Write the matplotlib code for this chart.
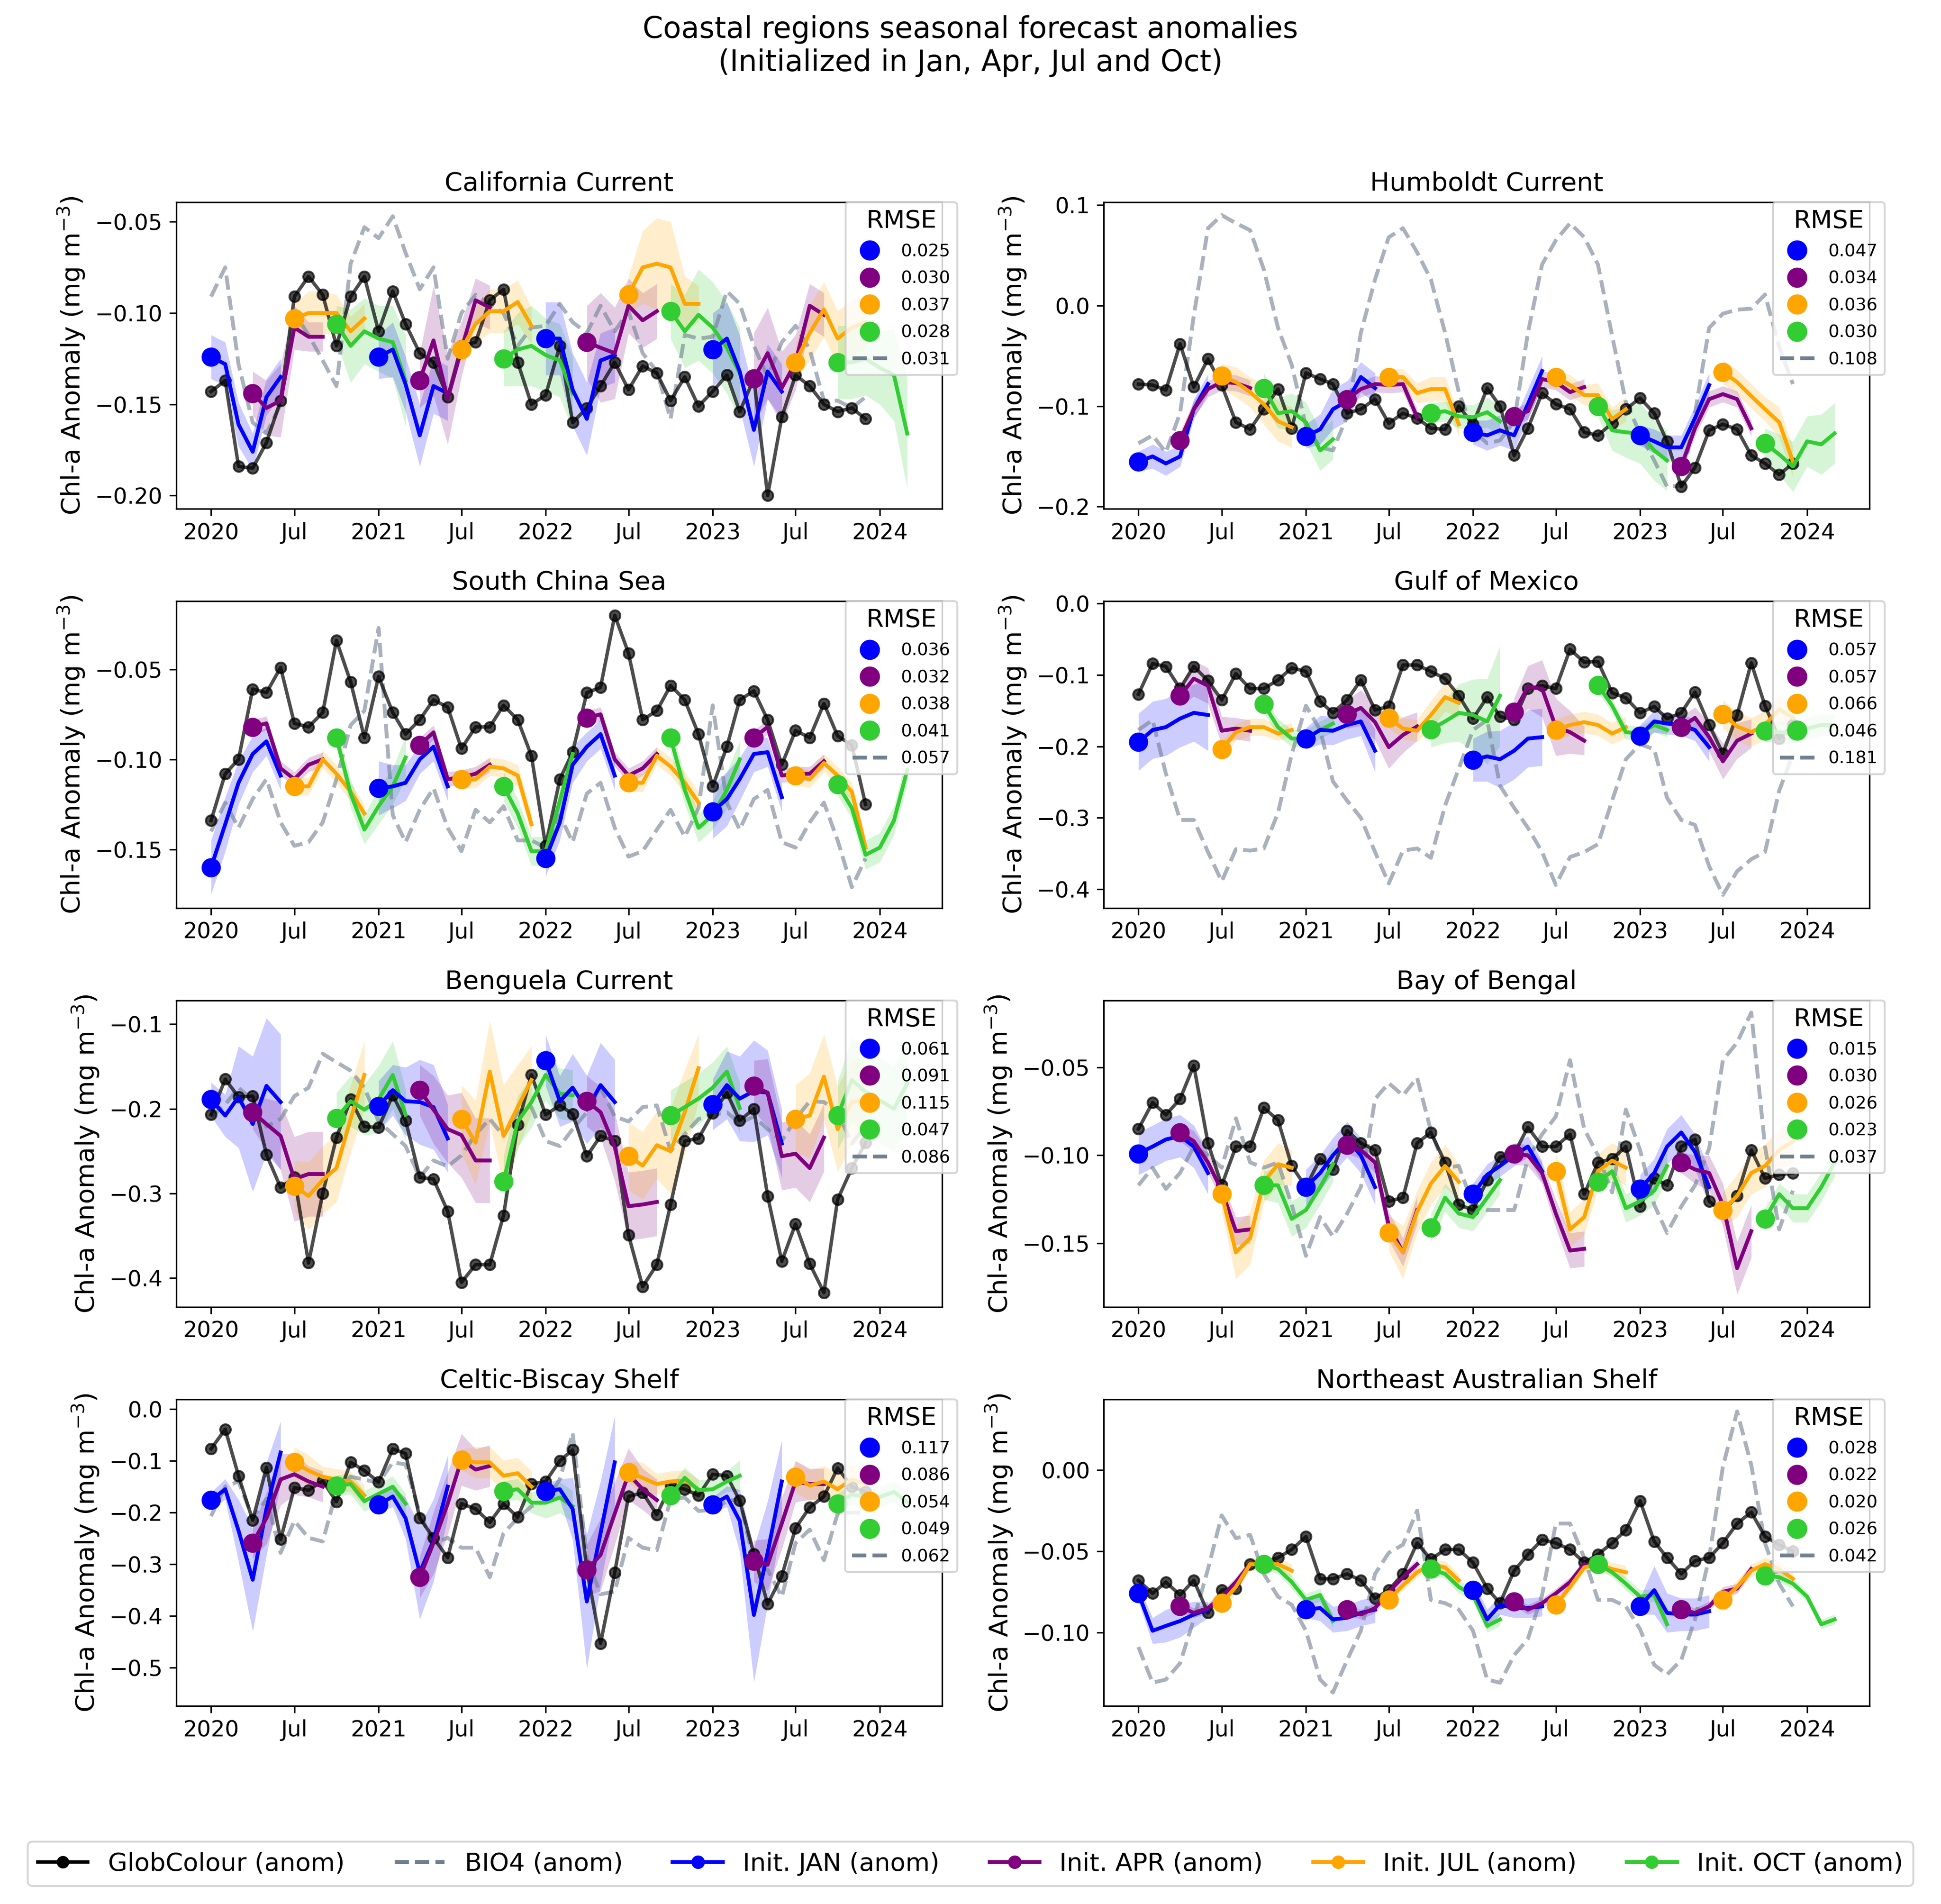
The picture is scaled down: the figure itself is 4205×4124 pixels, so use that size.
import numpy as np
import pandas as pd
import matplotlib
matplotlib.use("Agg")
import matplotlib.pyplot as plt
import matplotlib.dates as mdates
from matplotlib.lines import Line2D
from matplotlib.ticker import MultipleLocator

# monthly obs / BIO4 Jan 2020 .. Dec 2023, forecasts: 16 inits x 6 lead months
months = pd.date_range("2020-01-01", periods=48, freq="MS")
inits = pd.date_range("2020-01-01", periods=16, freq="3MS")
init_colors = ["blue", "purple", "orange", "limegreen"]
init_names = ["JAN", "APR", "JUL", "OCT"]

# ---------------- California Current
cal_obs = [-0.143, -0.137, -0.184, -0.185, -0.171, -0.148, -0.091, -0.080, -0.090, -0.118, -0.091, -0.080,
           -0.110, -0.088, -0.106, -0.122, -0.127, -0.146, -0.118, -0.116, -0.093, -0.087, -0.127, -0.150,
           -0.145, -0.118, -0.160, -0.152, -0.140, -0.127, -0.142, -0.129, -0.133, -0.148, -0.135, -0.151,
           -0.143, -0.134, -0.154, -0.136, -0.200, -0.157, -0.134, -0.140, -0.150, -0.154, -0.152, -0.158]
cal_bio = [-0.091, -0.075, -0.128, -0.160, -0.166, -0.150, -0.100, -0.112, -0.126, -0.140, -0.073, -0.053,
           -0.059, -0.047, -0.067, -0.087, -0.075, -0.125, -0.100, -0.090, -0.095, -0.100, -0.118, -0.108,
           -0.107, -0.095, -0.105, -0.111, -0.096, -0.110, -0.099, -0.122, -0.132, -0.158, -0.112, -0.114,
           -0.113, -0.088, -0.095, -0.118, -0.135, -0.116, -0.107, -0.120, -0.148, -0.148, -0.152, -0.146]
cal_fc = [[-0.124, -0.128, -0.161, -0.176, -0.146, -0.135], [-0.144, -0.152, -0.148, -0.108, -0.113, -0.113],
          [-0.103, -0.100, -0.100, -0.100, -0.110, -0.103], [-0.106, -0.118, -0.110, -0.114, -0.116, -0.137],
          [-0.124, -0.120, -0.139, -0.167, -0.140, -0.144], [-0.137, -0.115, -0.147, -0.120, -0.093, -0.097],
          [-0.120, -0.106, -0.099, -0.099, -0.094, -0.107], [-0.125, -0.120, -0.118, -0.123, -0.126, -0.144],
          [-0.114, -0.114, -0.142, -0.158, -0.126, -0.123], [-0.116, -0.119, -0.122, -0.096, -0.104, -0.099],
          [-0.090, -0.075, -0.073, -0.075, -0.095, -0.095], [-0.099, -0.110, -0.101, -0.108, -0.119, -0.133],
          [-0.120, -0.114, -0.132, -0.164, -0.132, -0.143], [-0.136, -0.122, -0.141, -0.127, -0.096, -0.101],
          [-0.127, -0.111, -0.098, -0.114, -0.108, -0.105], [-0.127, -0.127, -0.125, -0.130, -0.134, -0.166]]
cal_sd = [[12, 12, 12, 10, 10, 10], [12, 15, 20, 12, 8, 8], [8, 12, 12, 10, 8, 8], [10, 20, 18, 18, 20, 25],
          [12, 15, 15, 17, 15, 15], [15, 30, 25, 15, 12, 12], [8, 10, 12, 12, 12, 10], [15, 20, 22, 20, 20, 20],
          [20, 20, 20, 20, 15, 15], [20, 30, 25, 15, 15, 15], [10, 20, 25, 25, 15, 10], [15, 20, 25, 25, 25, 25],
          [20, 20, 20, 20, 15, 15], [25, 25, 20, 15, 12, 12], [10, 15, 15, 15, 15, 15], [20, 20, 20, 20, 25, 30]]
cal_rmse = [0.025, 0.030, 0.037, 0.028, 0.031]

# ---------------- Humboldt Current
hum_obs = [-0.078, -0.079, -0.084, -0.038, -0.081, -0.053, -0.079, -0.116, -0.123, -0.103, -0.083, -0.122,
           -0.067, -0.073, -0.078, -0.107, -0.103, -0.093, -0.117, -0.107, -0.112, -0.122, -0.123, -0.100,
           -0.118, -0.082, -0.100, -0.149, -0.122, -0.087, -0.098, -0.103, -0.126, -0.129, -0.117, -0.103,
           -0.092, -0.107, -0.135, -0.180, -0.161, -0.124, -0.118, -0.123, -0.149, -0.157, -0.168, -0.157]
hum_bio = [-0.137, -0.129, -0.146, -0.107, -0.010, 0.077, 0.090, 0.082, 0.075, 0.036, -0.022, -0.059,
           -0.120, -0.141, -0.144, -0.110, -0.027, 0.026, 0.068, 0.077, 0.053, 0.026, -0.027, -0.086,
           -0.124, -0.137, -0.134, -0.115, -0.027, 0.041, 0.065, 0.082, 0.068, 0.041, -0.030, -0.096,
           -0.127, -0.154, -0.180, -0.179, -0.107, -0.022, -0.008, -0.004, -0.003, 0.011, -0.041, -0.078]
hum_fc = [[-0.155, -0.150, -0.157, -0.150, -0.103, -0.078], [-0.134, -0.103, -0.083, -0.076, -0.077, -0.082],
          [-0.070, -0.076, -0.086, -0.098, -0.115, -0.121], [-0.082, -0.107, -0.105, -0.116, -0.144, -0.133],
          [-0.130, -0.123, -0.103, -0.095, -0.071, -0.082], [-0.093, -0.083, -0.078, -0.079, -0.078, -0.111],
          [-0.071, -0.071, -0.087, -0.083, -0.083, -0.118], [-0.107, -0.105, -0.110, -0.111, -0.106, -0.115],
          [-0.126, -0.129, -0.124, -0.129, -0.098, -0.065], [-0.110, -0.105, -0.073, -0.076, -0.086, -0.081],
          [-0.071, -0.079, -0.089, -0.089, -0.113, -0.103], [-0.100, -0.124, -0.126, -0.127, -0.144, -0.154],
          [-0.129, -0.135, -0.141, -0.141, -0.112, -0.079], [-0.160, -0.122, -0.093, -0.088, -0.093, -0.122],
          [-0.066, -0.076, -0.090, -0.103, -0.116, -0.155], [-0.137, -0.148, -0.160, -0.135, -0.138, -0.127]]
hum_sd = [[10, 12, 12, 10, 10, 10], [8, 8, 8, 8, 8, 8], [12, 15, 15, 20, 20, 20], [15, 15, 18, 20, 20, 20],
          [12, 15, 20, 20, 15, 15], [8, 8, 8, 8, 8, 8], [8, 8, 10, 12, 12, 12], [10, 10, 12, 12, 15, 15],
          [12, 15, 15, 15, 15, 15], [8, 8, 8, 8, 8, 8], [8, 10, 10, 12, 12, 12], [10, 20, 25, 30, 30, 30],
          [10, 12, 12, 12, 12, 12], [8, 8, 8, 8, 8, 8], [12, 12, 12, 12, 15, 15], [15, 20, 25, 25, 30, 30]]
hum_rmse = [0.047, 0.034, 0.036, 0.030, 0.108]

# ---------------- South China Sea
scs_obs = [-0.134, -0.108, -0.100, -0.061, -0.063, -0.049, -0.080, -0.082, -0.074, -0.034, -0.057, -0.088,
           -0.054, -0.074, -0.086, -0.078, -0.067, -0.071, -0.094, -0.082, -0.082, -0.070, -0.078, -0.098,
           -0.148, -0.111, -0.096, -0.063, -0.060, -0.020, -0.041, -0.078, -0.073, -0.059, -0.067, -0.086,
           -0.115, -0.093, -0.067, -0.062, -0.078, -0.103, -0.084, -0.088, -0.069, -0.087, -0.092, -0.125]
scs_bio = [-0.140, -0.124, -0.138, -0.122, -0.111, -0.135, -0.148, -0.146, -0.135, -0.111, -0.081, -0.073,
           -0.027, -0.131, -0.146, -0.128, -0.116, -0.138, -0.151, -0.128, -0.135, -0.126, -0.145, -0.145,
           -0.149, -0.131, -0.146, -0.119, -0.113, -0.138, -0.154, -0.151, -0.139, -0.128, -0.143, -0.127,
           -0.070, -0.124, -0.139, -0.122, -0.117, -0.146, -0.149, -0.135, -0.124, -0.145, -0.171, -0.155]
scs_fc = [[-0.160, -0.136, -0.113, -0.097, -0.090, -0.109], [-0.082, -0.080, -0.105, -0.111, -0.103, -0.100],
          [-0.115, -0.115, -0.100, -0.108, -0.118, -0.130], [-0.088, -0.119, -0.139, -0.126, -0.115, -0.099],
          [-0.116, -0.115, -0.113, -0.100, -0.093, -0.115], [-0.092, -0.085, -0.111, -0.110, -0.108, -0.103],
          [-0.111, -0.111, -0.104, -0.105, -0.109, -0.136], [-0.115, -0.130, -0.151, -0.151, -0.123, -0.097],
          [-0.155, -0.135, -0.103, -0.093, -0.086, -0.109], [-0.077, -0.075, -0.100, -0.109, -0.105, -0.097],
          [-0.113, -0.113, -0.098, -0.104, -0.113, -0.124], [-0.088, -0.117, -0.138, -0.131, -0.117, -0.100],
          [-0.129, -0.122, -0.111, -0.097, -0.096, -0.121], [-0.088, -0.082, -0.109, -0.108, -0.108, -0.101],
          [-0.109, -0.111, -0.102, -0.109, -0.118, -0.149], [-0.114, -0.127, -0.153, -0.149, -0.134, -0.106]]
scs_sd = [[15, 15, 12, 10, 8, 8], [4, 4, 4, 4, 4, 4], [5, 5, 5, 5, 5, 5], [5, 8, 8, 10, 10, 12],
          [15, 12, 10, 8, 8, 8], [4, 4, 4, 4, 4, 4], [5, 5, 5, 5, 6, 6], [8, 8, 8, 8, 8, 8],
          [10, 10, 10, 8, 8, 8], [4, 4, 4, 4, 4, 4], [5, 5, 5, 5, 6, 6], [8, 8, 8, 8, 10, 10],
          [15, 15, 12, 10, 8, 8], [4, 4, 4, 4, 4, 4], [5, 5, 5, 5, 5, 6], [6, 6, 8, 8, 8, 8]]
scs_rmse = [0.036, 0.032, 0.038, 0.041, 0.057]

# ---------------- Gulf of Mexico
gom_obs = [-0.127, -0.084, -0.088, -0.119, -0.088, -0.108, -0.135, -0.098, -0.119, -0.119, -0.107, -0.090,
           -0.095, -0.137, -0.153, -0.135, -0.107, -0.149, -0.144, -0.086, -0.086, -0.095, -0.105, -0.129,
           -0.161, -0.131, -0.158, -0.163, -0.119, -0.115, -0.119, -0.064, -0.082, -0.081, -0.125, -0.132,
           -0.153, -0.144, -0.161, -0.153, -0.124, -0.170, -0.210, -0.156, -0.083, -0.143, -0.189, -0.170]
gom_bio = [-0.177, -0.163, -0.238, -0.303, -0.303, -0.348, -0.389, -0.344, -0.346, -0.343, -0.293, -0.211,
           -0.143, -0.177, -0.249, -0.276, -0.300, -0.348, -0.392, -0.346, -0.343, -0.356, -0.283, -0.231,
           -0.177, -0.163, -0.255, -0.286, -0.314, -0.348, -0.394, -0.355, -0.348, -0.337, -0.276, -0.218,
           -0.197, -0.204, -0.272, -0.303, -0.310, -0.368, -0.408, -0.375, -0.358, -0.348, -0.262, -0.211]
gom_fc = [[-0.194, -0.177, -0.173, -0.161, -0.153, -0.156], [-0.129, -0.105, -0.115, -0.178, -0.175, -0.178],
          [-0.204, -0.180, -0.173, -0.173, -0.182, -0.177], [-0.141, -0.173, -0.189, -0.189, -0.177, -0.168],
          [-0.189, -0.177, -0.178, -0.170, -0.165, -0.206], [-0.155, -0.146, -0.166, -0.201, -0.184, -0.172],
          [-0.160, -0.175, -0.178, -0.156, -0.131, -0.139], [-0.176, -0.165, -0.153, -0.156, -0.165, -0.129],
          [-0.219, -0.214, -0.218, -0.206, -0.189, -0.187], [-0.152, -0.117, -0.119, -0.173, -0.180, -0.192],
          [-0.177, -0.170, -0.166, -0.170, -0.182, -0.173], [-0.114, -0.143, -0.180, -0.182, -0.170, -0.177],
          [-0.185, -0.165, -0.168, -0.170, -0.177, -0.201], [-0.173, -0.160, -0.187, -0.221, -0.192, -0.182],
          [-0.155, -0.172, -0.180, -0.170, -0.148, -0.160], [-0.178, -0.180, -0.182, -0.175, -0.170, -0.170]]
gom_sd = [[40, 40, 40, 40, 40, 50], [15, 25, 25, 20, 15, 15], [10, 12, 12, 12, 10, 10], [12, 12, 12, 12, 12, 12],
          [15, 20, 20, 20, 20, 30], [20, 25, 25, 30, 25, 20], [15, 15, 15, 20, 20, 20], [25, 30, 40, 50, 60, 70],
          [30, 35, 40, 40, 40, 40], [20, 30, 40, 40, 30, 20], [15, 15, 15, 15, 15, 15], [10, 10, 10, 10, 10, 10],
          [15, 15, 15, 15, 15, 20], [15, 15, 20, 25, 25, 20], [20, 20, 20, 20, 20, 20], [15, 15, 15, 15, 15, 15]]
gom_rmse = [0.057, 0.057, 0.066, 0.046, 0.181]

# ---------------- Benguela Current
ben_obs = [-0.207, -0.165, -0.186, -0.185, -0.254, -0.293, -0.281, -0.382, -0.300, -0.234, -0.189, -0.221,
           -0.222, -0.184, -0.214, -0.281, -0.283, -0.321, -0.405, -0.384, -0.384, -0.326, -0.219, -0.160,
           -0.207, -0.196, -0.206, -0.256, -0.232, -0.238, -0.349, -0.410, -0.384, -0.313, -0.238, -0.235,
           -0.205, -0.181, -0.214, -0.200, -0.303, -0.380, -0.336, -0.383, -0.417, -0.307, -0.270, -0.240]
ben_bio = [-0.209, -0.195, -0.175, -0.190, -0.221, -0.212, -0.185, -0.175, -0.135, -0.145, -0.155, -0.175,
           -0.215, -0.230, -0.244, -0.281, -0.261, -0.268, -0.255, -0.230, -0.212, -0.232, -0.204, -0.198,
           -0.238, -0.244, -0.224, -0.204, -0.175, -0.209, -0.215, -0.198, -0.196, -0.250, -0.230, -0.212,
           -0.207, -0.204, -0.217, -0.209, -0.224, -0.238, -0.212, -0.191, -0.192, -0.204, -0.241, -0.220]
ben_fc = [[-0.189, -0.208, -0.186, -0.218, -0.173, -0.192], [-0.204, -0.218, -0.232, -0.283, -0.277, -0.277],
          [-0.291, -0.303, -0.284, -0.270, -0.212, -0.160], [-0.211, -0.191, -0.201, -0.189, -0.160, -0.207],
          [-0.197, -0.178, -0.191, -0.192, -0.198, -0.235], [-0.178, -0.201, -0.224, -0.231, -0.261, -0.261],
          [-0.212, -0.240, -0.156, -0.232, -0.198, -0.166], [-0.286, -0.215, -0.192, -0.160, -0.182, -0.184],
          [-0.143, -0.191, -0.175, -0.201, -0.172, -0.192], [-0.191, -0.204, -0.245, -0.315, -0.313, -0.310],
          [-0.256, -0.267, -0.243, -0.250, -0.204, -0.152], [-0.208, -0.198, -0.188, -0.175, -0.156, -0.199],
          [-0.195, -0.172, -0.188, -0.179, -0.181, -0.241], [-0.173, -0.181, -0.256, -0.253, -0.270, -0.234],
          [-0.212, -0.208, -0.162, -0.224, -0.192, -0.190], [-0.208, -0.166, -0.180, -0.190, -0.200, -0.170]]
ben_sd = [[20, 25, 60, 80, 80, 80], [20, 30, 40, 50, 50, 50], [30, 40, 40, 40, 40, 40], [30, 30, 30, 40, 40, 30],
          [30, 30, 40, 50, 50, 40], [30, 40, 40, 50, 50, 50], [40, 50, 60, 60, 50, 40], [30, 30, 30, 30, 30, 30],
          [30, 30, 40, 40, 50, 50], [30, 30, 40, 40, 40, 40], [40, 40, 40, 50, 50, 40], [30, 30, 30, 30, 30, 30],
          [30, 40, 50, 60, 50, 40], [30, 40, 40, 40, 40, 40], [40, 50, 50, 50, 50, 50], [40, 50, 50, 50, 50, 50]]
ben_rmse = [0.061, 0.091, 0.115, 0.047, 0.086]

# ---------------- Bay of Bengal
bob_obs = [-0.085, -0.070, -0.077, -0.068, -0.049, -0.093, -0.117, -0.095, -0.095, -0.073, -0.080, -0.106,
           -0.118, -0.102, -0.108, -0.086, -0.093, -0.097, -0.126, -0.124, -0.093, -0.087, -0.104, -0.128,
           -0.131, -0.114, -0.101, -0.099, -0.084, -0.095, -0.095, -0.088, -0.122, -0.104, -0.102, -0.095,
           -0.129, -0.113, -0.117, -0.095, -0.091, -0.126, -0.132, -0.123, -0.097, -0.113, -0.111, -0.110]
bob_bio = [-0.117, -0.107, -0.119, -0.110, -0.095, -0.100, -0.107, -0.079, -0.104, -0.107, -0.104, -0.128,
           -0.157, -0.135, -0.146, -0.133, -0.118, -0.068, -0.059, -0.066, -0.056, -0.086, -0.107, -0.106,
           -0.128, -0.131, -0.131, -0.131, -0.102, -0.088, -0.078, -0.046, -0.085, -0.100, -0.121, -0.074,
           -0.097, -0.128, -0.144, -0.129, -0.117, -0.096, -0.046, -0.036, -0.019, -0.095, -0.142, -0.120]
bob_fc = [[-0.099, -0.095, -0.091, -0.089, -0.095, -0.110], [-0.087, -0.092, -0.104, -0.120, -0.143, -0.142],
          [-0.122, -0.155, -0.147, -0.115, -0.105, -0.107], [-0.117, -0.117, -0.136, -0.131, -0.118, -0.105],
          [-0.118, -0.110, -0.100, -0.091, -0.100, -0.118], [-0.094, -0.097, -0.104, -0.140, -0.155, -0.131],
          [-0.144, -0.155, -0.132, -0.116, -0.106, -0.115], [-0.141, -0.124, -0.133, -0.135, -0.124, -0.114],
          [-0.122, -0.111, -0.106, -0.100, -0.095, -0.109], [-0.099, -0.100, -0.110, -0.133, -0.154, -0.153],
          [-0.109, -0.142, -0.135, -0.109, -0.103, -0.107], [-0.115, -0.109, -0.130, -0.126, -0.120, -0.106],
          [-0.119, -0.110, -0.095, -0.087, -0.098, -0.118], [-0.104, -0.108, -0.110, -0.128, -0.164, -0.143],
          [-0.131, -0.123, -0.110, -0.106, -0.097, -0.092], [-0.136, -0.122, -0.130, -0.130, -0.118, -0.104]]
bob_sd = [[12, 12, 12, 12, 12, 12], [5, 6, 6, 6, 8, 8], [10, 15, 15, 12, 12, 10], [8, 10, 10, 10, 10, 10],
          [10, 10, 10, 10, 10, 10], [5, 5, 6, 8, 8, 8], [10, 15, 12, 12, 12, 10], [8, 8, 8, 8, 8, 8],
          [6, 6, 6, 6, 6, 6], [6, 6, 6, 8, 10, 10], [10, 10, 10, 10, 10, 10], [6, 6, 8, 8, 8, 8],
          [8, 8, 10, 10, 10, 10], [6, 8, 10, 12, 15, 15], [10, 12, 12, 12, 12, 12], [6, 6, 8, 8, 8, 8]]
bob_rmse = [0.015, 0.030, 0.026, 0.023, 0.037]

# ---------------- Celtic-Biscay Shelf
cel_obs = [-0.077, -0.039, -0.129, -0.215, -0.113, -0.252, -0.152, -0.157, -0.139, -0.179, -0.103, -0.119,
           -0.141, -0.077, -0.086, -0.211, -0.249, -0.287, -0.183, -0.193, -0.219, -0.183, -0.209, -0.145,
           -0.140, -0.100, -0.079, -0.310, -0.453, -0.316, -0.169, -0.162, -0.204, -0.148, -0.155, -0.167,
           -0.126, -0.129, -0.177, -0.280, -0.377, -0.323, -0.230, -0.190, -0.169, -0.114, -0.150, -0.160]
cel_bio = [-0.207, -0.150, -0.140, -0.211, -0.174, -0.278, -0.216, -0.249, -0.256, -0.159, -0.131, -0.136,
           -0.143, -0.103, -0.107, -0.202, -0.259, -0.249, -0.268, -0.268, -0.325, -0.240, -0.211, -0.188,
           -0.178, -0.136, -0.046, -0.287, -0.358, -0.353, -0.249, -0.268, -0.273, -0.174, -0.171, -0.197,
           -0.195, -0.178, -0.174, -0.297, -0.311, -0.363, -0.259, -0.233, -0.292, -0.202, -0.200, -0.200]
cel_fc = [[-0.176, -0.155, -0.235, -0.330, -0.193, -0.084], [-0.259, -0.211, -0.136, -0.126, -0.140, -0.150],
          [-0.103, -0.119, -0.131, -0.136, -0.140, -0.167], [-0.148, -0.145, -0.178, -0.164, -0.150, -0.183],
          [-0.185, -0.169, -0.211, -0.316, -0.254, -0.150], [-0.325, -0.259, -0.183, -0.098, -0.117, -0.110],
          [-0.098, -0.103, -0.103, -0.129, -0.124, -0.150], [-0.159, -0.155, -0.181, -0.181, -0.171, -0.188],
          [-0.159, -0.155, -0.193, -0.372, -0.240, -0.103], [-0.311, -0.282, -0.202, -0.126, -0.155, -0.176],
          [-0.122, -0.133, -0.145, -0.140, -0.138, -0.155], [-0.167, -0.133, -0.157, -0.155, -0.140, -0.129],
          [-0.185, -0.169, -0.216, -0.398, -0.278, -0.140], [-0.294, -0.301, -0.221, -0.140, -0.145, -0.145],
          [-0.131, -0.148, -0.140, -0.155, -0.136, -0.145], [-0.183, -0.165, -0.170, -0.170, -0.160, -0.180]]
cel_sd = [[15, 20, 60, 100, 90, 60], [30, 50, 50, 40, 30, 30], [30, 30, 20, 20, 20, 20], [20, 20, 20, 20, 20, 20],
          [15, 20, 40, 90, 80, 60], [40, 60, 60, 50, 40, 40], [20, 30, 30, 30, 30, 30], [20, 20, 20, 30, 30, 30],
          [15, 20, 60, 130, 100, 90], [50, 70, 60, 50, 40, 40], [20, 30, 20, 20, 20, 20], [20, 20, 20, 20, 20, 30],
          [15, 20, 60, 130, 100, 80], [40, 50, 50, 40, 30, 30], [30, 30, 30, 30, 30, 30], [20, 20, 20, 20, 20, 20]]
cel_rmse = [0.117, 0.086, 0.054, 0.049, 0.062]

# ---------------- Northeast Australian Shelf
nea_obs = [-0.068, -0.076, -0.069, -0.077, -0.068, -0.088, -0.074, -0.073, -0.058, -0.057, -0.054, -0.049,
           -0.041, -0.067, -0.067, -0.064, -0.068, -0.079, -0.074, -0.064, -0.045, -0.055, -0.049, -0.049,
           -0.057, -0.073, -0.082, -0.062, -0.052, -0.043, -0.045, -0.049, -0.057, -0.052, -0.045, -0.037,
           -0.019, -0.044, -0.054, -0.064, -0.056, -0.054, -0.045, -0.033, -0.026, -0.041, -0.046, -0.050]
nea_bio = [-0.109, -0.131, -0.129, -0.119, -0.092, -0.061, -0.028, -0.042, -0.040, -0.064, -0.078, -0.083,
           -0.099, -0.129, -0.137, -0.117, -0.099, -0.064, -0.051, -0.046, -0.025, -0.080, -0.082, -0.086,
           -0.099, -0.129, -0.131, -0.114, -0.104, -0.077, -0.033, -0.033, -0.054, -0.080, -0.080, -0.084,
           -0.098, -0.120, -0.126, -0.117, -0.092, -0.054, 0.002, 0.036, 0.003, -0.045, -0.070, -0.084]
nea_fc = [[-0.076, -0.099, -0.096, -0.093, -0.089, -0.086], [-0.084, -0.088, -0.085, -0.078, -0.069, -0.058],
          [-0.082, -0.072, -0.058, -0.058, -0.058, -0.062], [-0.058, -0.061, -0.069, -0.080, -0.077, -0.093],
          [-0.086, -0.085, -0.092, -0.091, -0.088, -0.086], [-0.086, -0.089, -0.085, -0.075, -0.066, -0.058],
          [-0.080, -0.071, -0.063, -0.058, -0.060, -0.068], [-0.061, -0.064, -0.072, -0.077, -0.096, -0.092],
          [-0.074, -0.092, -0.083, -0.085, -0.085, -0.084], [-0.081, -0.086, -0.082, -0.076, -0.069, -0.058],
          [-0.083, -0.072, -0.060, -0.058, -0.061, -0.063], [-0.058, -0.063, -0.070, -0.078, -0.077, -0.095],
          [-0.084, -0.074, -0.088, -0.089, -0.089, -0.087], [-0.086, -0.088, -0.084, -0.075, -0.073, -0.061],
          [-0.080, -0.072, -0.062, -0.058, -0.061, -0.067], [-0.065, -0.066, -0.070, -0.078, -0.095, -0.092]]
nea_sd = [[5, 8, 10, 10, 8, 5], [3, 3, 3, 3, 3, 3], [4, 4, 4, 4, 4, 4], [3, 3, 4, 4, 4, 4],
          [5, 8, 8, 8, 8, 8], [3, 3, 3, 3, 3, 3], [3, 3, 3, 3, 4, 4], [3, 3, 4, 4, 4, 4],
          [6, 6, 6, 6, 6, 6], [3, 3, 3, 3, 3, 3], [3, 3, 3, 4, 4, 4], [3, 3, 4, 4, 4, 4],
          [5, 15, 12, 10, 10, 10], [3, 3, 3, 3, 3, 3], [4, 4, 4, 4, 4, 4], [3, 3, 3, 3, 3, 3]]
nea_rmse = [0.028, 0.022, 0.020, 0.026, 0.042]

panels = [
    ("California Current", cal_obs, cal_bio, cal_fc, cal_sd, cal_rmse),
    ("Humboldt Current", hum_obs, hum_bio, hum_fc, hum_sd, hum_rmse),
    ("South China Sea", scs_obs, scs_bio, scs_fc, scs_sd, scs_rmse),
    ("Gulf of Mexico", gom_obs, gom_bio, gom_fc, gom_sd, gom_rmse),
    ("Benguela Current", ben_obs, ben_bio, ben_fc, ben_sd, ben_rmse),
    ("Bay of Bengal", bob_obs, bob_bio, bob_fc, bob_sd, bob_rmse),
    ("Celtic-Biscay Shelf", cel_obs, cel_bio, cel_fc, cel_sd, cel_rmse),
    ("Northeast Australian Shelf", nea_obs, nea_bio, nea_fc, nea_sd, nea_rmse),
]
ylims = [(-0.2073, -0.0393), (-0.2022, 0.1029), (-0.1825, -0.0122), (-0.4263, 0.0034),
         (-0.434, -0.0718), (-0.186, -0.012), (-0.574, 0.0189), (-0.1453, 0.0435)]
ysteps = [0.05, 0.1, 0.05, 0.1, 0.1, 0.05, 0.1, 0.05]

fig, axes = plt.subplots(4, 2, figsize=(4205 / 300, 4124 / 300))
fig.subplots_adjust(left=0.0908, right=0.9631, bottom=0.104, top=0.8938,
                    wspace=0.211, hspace=0.301)

for ax, (name, obs, bio, fc, sd, rmse), yl, st in zip(axes.flat, panels, ylims, ysteps):
    for k, t0 in enumerate(inits):
        d = pd.date_range(t0, periods=6, freq="MS")
        m = np.array(fc[k])
        s = np.array(sd[k]) / 1000.0
        c = init_colors[k % 4]
        ax.fill_between(d, m - s, m + s, color=c, alpha=0.2, lw=0, zorder=1)
        ax.plot(d, m, color=c, lw=2, zorder=4)
        ax.plot(d[:1], m[:1], "o", color=c, ms=9, zorder=5)
    ax.plot(months, bio, ls="--", color="slategray", alpha=0.6, lw=2, zorder=2)
    ax.plot(months, obs, "o-", color="black", alpha=0.7, ms=5.5, lw=1.8, zorder=3)

    ax.set_title(name, fontsize=13.5)
    ax.set_ylabel("Chl-a Anomaly (mg m$^{-3}$)", fontsize=13.5)
    ax.set_ylim(*yl)
    ax.yaxis.set_major_locator(MultipleLocator(st))
    loc = mdates.MonthLocator(bymonth=[1, 7])
    ax.xaxis.set_major_locator(loc)
    ax.xaxis.set_major_formatter(mdates.ConciseDateFormatter(loc))
    ax.tick_params(labelsize=11.5)

    hs = [Line2D([], [], marker="o", ls="", color=c, ms=9.5) for c in init_colors]
    hs.append(Line2D([], [], ls="--", color="slategray", lw=2))
    ax.legend(hs, [f"{v:.3f}" for v in rmse], title="RMSE", title_fontsize=13, fontsize=9,
              labelspacing=0.6, loc="upper right", bbox_to_anchor=(1.02, 1.0), borderaxespad=0)

fig.suptitle("Coastal regions seasonal forecast anomalies\n(Initialized in Jan, Apr, Jul and Oct)",
             fontsize=15.3, y=0.992, va="top")

leg_h = [Line2D([], [], color="black", marker="o", ms=5.5, lw=1.8),
         Line2D([], [], color="slategray", ls="--", lw=2)]
leg_l = ["GlobColour (anom)", "BIO4 (anom)"]
for c, n in zip(init_colors, init_names):
    leg_h.append(Line2D([], [], color=c, marker="o", ms=6, lw=2))
    leg_l.append(f"Init. {n} (anom)")
fig.legend(leg_h, leg_l, loc="lower center", bbox_to_anchor=(0.5, 0.003), ncol=6, fontsize=13.0)

fig.savefig("out.png", dpi=300)
print("saved out.png")
